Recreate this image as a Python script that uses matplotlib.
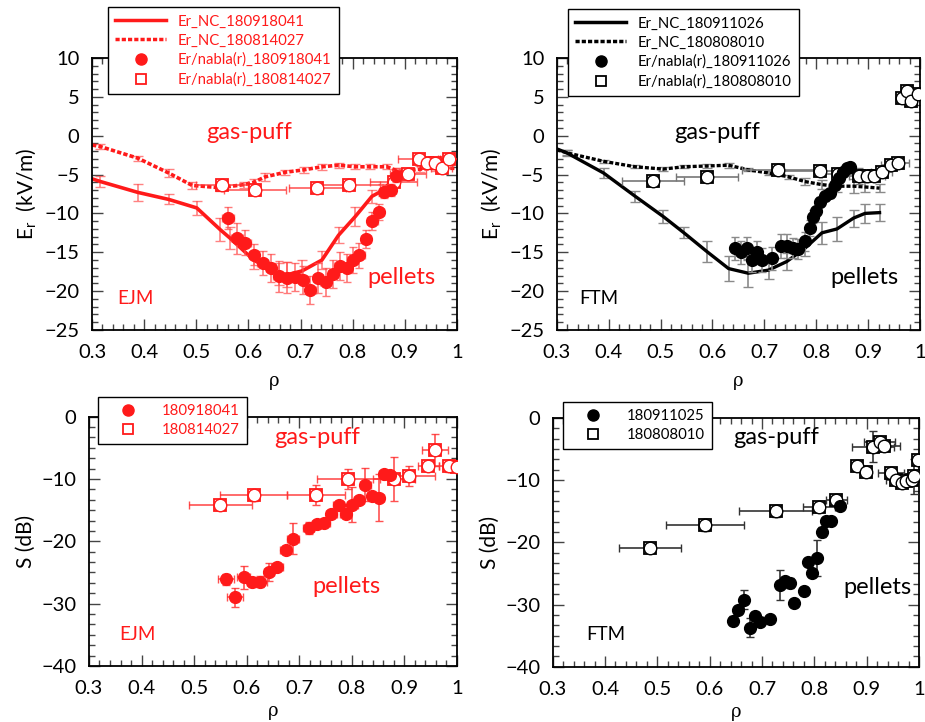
import numpy as np
import matplotlib
matplotlib.use("Agg")
import matplotlib.pyplot as plt
from matplotlib.lines import Line2D
from matplotlib.ticker import MultipleLocator

plt.rcParams["font.family"] = ["Lato", "DejaVu Sans"]

nan = np.nan

# ---------------------------------------------------------------------------
# Data: E_r, EJM (top left)
# ---------------------------------------------------------------------------
ejm_nc_shot = "180918041"
ejm_nc_x = [0.30, 0.316, 0.388, 0.447, 0.501, 0.546, 0.565, 0.61, 0.658, 0.674,
            0.703, 0.741, 0.773, 0.805, 0.837, 0.859, 0.885]
ejm_nc_y = [-5.55, -5.9, -7.3, -8.2, -9.3, -12.1, -13.2, -16.0, -17.8, -17.9,
            -17.4, -16.0, -12.8, -10.4, -7.8, -7.0, -5.0]
ejm_nc_err = [nan, 0.65, 1.1, 0.65, 0.85, 1.5, 1.4, 1.2, 1.4, 1.6,
              1.4, 1.2, 1.0, 1.2, 0.8, 0.8, 0.8]

ejm_gp_nc_shot = "180814027"
ejm_gp_nc_x = [0.30, 0.316, 0.388, 0.447, 0.492, 0.546, 0.591, 0.61, 0.632, 0.671,
               0.706, 0.741, 0.773, 0.805, 0.834, 0.866, 0.888, 0.93, 0.96, 0.995]
ejm_gp_nc_y = [-1.2, -1.4, -2.9, -4.8, -6.4, -6.7, -6.3, -6.0, -5.3, -4.7,
               -4.4, -4.0, -3.8, -4.0, -4.0, -4.0, -4.6, -4.3, -4.2, -4.2]
ejm_gp_nc_err = [nan, 0.3, 0.3, 0.5, 0.5, 0.4, 0.4, 0.4, 0.5, 0.3,
                 0.4, 0.4, 0.3, 0.3, 0.3, 0.3, 0.4, 0.4, 0.3, nan]

ejm_pel_x = [0.561, 0.578, 0.594, 0.611, 0.627, 0.643, 0.658, 0.674, 0.69, 0.705,
             0.719, 0.733, 0.748, 0.762, 0.775, 0.789, 0.80, 0.813, 0.825, 0.838,
             0.85, 0.861, 0.873, 0.883]
ejm_pel_y = [-10.6, -13.2, -13.75, -15.3, -16.4, -17.0, -18.1, -18.3, -18.2, -18.6,
             -19.8, -18.3, -18.8, -17.8, -16.8, -17.05, -16.0, -15.4, -13.3, -11.0,
             -9.8, -7.2, -7.0, -5.2]
ejm_pel_yerr = [1.4, 2.0, 1.6, 1.4, 1.5, 1.8, 2.0, 2.0, 1.8, 1.8,
                1.8, 1.9, 1.8, 1.8, 1.8, 1.8, 1.7, 1.6, 1.2, 1.2,
                1.0, 0.8, 0.8, 0.8]
ejm_pel_xerr = [0.012, 0.012, 0.01, 0.01, 0.01, 0.01, 0.01, 0.01, 0.01, 0.01,
                0.01, 0.01, 0.01, 0.01, 0.01, 0.01, 0.01, 0.01, 0.01, 0.01,
                0.01, 0.01, 0.01, 0.01]

ejm_gp_x = [0.549, 0.613, 0.732, 0.792, 0.879, 0.906, 0.927, 0.943, 0.958, 0.971, 0.984]
ejm_gp_y = [-6.3, -6.96, -6.67, -6.4, -6.0, -4.9, -3.0, -3.5, -3.5, -4.2, -3.0]
ejm_gp_xerr = [0.05, 0.06, 0.055, 0.06, 0.045, 0.035, 0.04, 0.02, 0.02, 0.02, 0.02]
ejm_gp_yerr = [0.4, 0.4, 0.4, 0.4, 0.5, 0.5, 0.4, 0.4, 0.4, 0.4, 0.4]

# ---------------------------------------------------------------------------
# Data: E_r, FTM (top right)
# ---------------------------------------------------------------------------
ftm_nc_shot = "180911026"
ftm_nc_x = [0.30, 0.319, 0.39, 0.451, 0.505, 0.545, 0.589, 0.631, 0.669, 0.708,
            0.743, 0.778, 0.811, 0.84, 0.872, 0.894, 0.922]
ftm_nc_y = [-1.7, -2.2, -4.8, -7.8, -10.4, -12.5, -14.9, -17.1, -17.7, -17.3,
            -16.2, -14.5, -12.5, -12.0, -10.6, -10.0, -9.9]
ftm_nc_err = [nan, 0.4, 0.7, 0.7, 0.8, 0.7, 1.3, 1.6, 1.8, 1.2,
              1.1, 1.0, 1.4, 1.5, 1.1, 1.2, 1.1]

ftm_gp_nc_shot = "180808010"
ftm_gp_nc_x = [0.30, 0.319, 0.39, 0.451, 0.505, 0.545, 0.589, 0.631, 0.669, 0.708,
               0.747, 0.778, 0.811, 0.84, 0.872, 0.894, 0.922]
ftm_gp_nc_y = [-1.8, -2.2, -3.3, -4.0, -4.3, -4.0, -3.9, -3.8, -4.4, -4.8,
               -5.3, -5.9, -6.3, -6.5, -6.5, -6.6, -6.75]
ftm_gp_nc_err = [nan, 0.3, 0.2, 0.2, 0.3, 0.2, 0.3, 0.3, 0.2, 0.3,
                 0.3, 0.4, 0.6, 0.8, 0.9, 0.7, 0.5]

ftm_pel_x = [0.644, 0.655, 0.666, 0.676, 0.686, 0.696, 0.715, 0.732, 0.744, 0.756,
             0.765, 0.779, 0.787, 0.794, 0.80, 0.807, 0.817, 0.827, 0.836, 0.843,
             0.851, 0.859, 0.865]
ftm_pel_y = [-14.5, -15.0, -14.5, -16.0, -15.0, -16.0, -15.8, -14.2, -14.2, -14.5,
             -14.6, -13.6, -11.9, -10.4, -9.75, -8.5, -7.8, -7.4, -6.3, -5.5,
             -4.7, -4.2, -4.0]
ftm_pel_err = [1.5, 1.5, 1.5, 1.5, 1.5, 1.5, 1.5, 1.5, 1.5, 1.3,
               1.3, 1.2, 1.0, 0.8, 0.6, 0.6, 0.6, 0.6, 0.5, 0.5,
               0.5, 0.5, 0.5]

ftm_gp_x = [0.486, 0.59, 0.727, 0.807, 0.841, 0.883, 0.897, 0.912, 0.926, 0.945,
            0.958, 0.965, 0.974, 0.982, 0.997]
ftm_gp_y = [-5.8, -5.33, -4.4, -4.5, -4.9, -5.2, -5.2, -5.2, -4.7, -3.75,
            -3.55, 4.85, 5.8, 4.4, 5.4]
ftm_gp_xerr = [0.06, 0.06, 0.07, 0.07, 0.03, 0.02, 0.02, 0.02, 0.02, 0.02,
               0.02, 0.01, 0.01, 0.01, 0.01]
ftm_gp_yerr = [0.3, 0.3, 0.3, 0.3, 0.3, 1.0, 0.3, 0.3, 0.3, 0.5,
               0.5, 0.4, 0.4, 0.4, 0.4]

# ---------------------------------------------------------------------------
# Data: S (dB), EJM (bottom left)
# ---------------------------------------------------------------------------
s_ejm_pel_shot = "180918041"
s_ejm_pel_x = [0.561, 0.578, 0.594, 0.61, 0.626, 0.642, 0.658, 0.674, 0.688, 0.718,
               0.734, 0.748, 0.761, 0.775, 0.788, 0.801, 0.814, 0.826, 0.838, 0.851,
               0.862, 0.872]
s_ejm_pel_y = [-26.1, -29.0, -25.8, -26.6, -26.5, -24.9, -24.2, -21.4, -19.6, -17.9,
               -17.2, -17.0, -15.6, -14.1, -15.6, -14.1, -13.4, -10.9, -12.7, -13.0,
               -9.25, -9.4]
s_ejm_pel_yerr = [0.9, 1.5, 1.8, 0.8, 0.9, 1.5, 0.6, 0.6, 2.5, 1.0,
                  0.6, 0.5, 0.6, 0.5, 0.5, 2.8, 0.5, 2.6, 0.5, 3.8,
                  0.5, 0.5]
s_ejm_pel_xerr = [0.015, 0.015, 0.012, 0.01, 0.012, 0.01, 0.012, 0.01, 0.012, 0.01,
                  0.01, 0.01, 0.01, 0.01, 0.01, 0.01, 0.01, 0.01, 0.01, 0.01,
                  0.01, 0.01]

s_ejm_gp_shot = "180814027"
s_ejm_gp_x = [0.55, 0.613, 0.732, 0.793, 0.88, 0.908, 0.945, 0.958, 0.985, 1.0]
s_ejm_gp_y = [-14.2, -12.6, -12.5, -10.0, -10.0, -9.5, -7.9, -5.35, -7.9, -8.0]
s_ejm_gp_xerr = [0.06, 0.063, 0.055, 0.06, 0.04, 0.05, 0.02, 0.025, 0.02, 0.01]
s_ejm_gp_yerr = [0.5, 0.9, 1.6, 1.6, 3.5, 1.6, 0.4, 2.6, 1.0, 0.5]

# ---------------------------------------------------------------------------
# Data: S (dB), FTM (bottom right)
# ---------------------------------------------------------------------------
s_ftm_pel_shot = "180911025"
s_ftm_pel_x = [0.645, 0.655, 0.666, 0.677, 0.686, 0.696, 0.716, 0.734, 0.744, 0.753,
               0.761, 0.78, 0.787, 0.796, 0.806, 0.814, 0.822, 0.831, 0.85]
s_ftm_pel_y = [-32.6, -30.9, -29.2, -33.7, -31.9, -32.75, -32.4, -26.8, -26.2, -26.6,
               -29.8, -27.8, -23.2, -25.0, -22.55, -18.4, -16.5, -16.6, -14.1]
s_ftm_pel_yerr = [0.7, 0.7, 1.5, 1.6, 0.7, 0.7, 0.5, 2.4, 0.5, 0.8,
                  0.5, 0.7, 0.5, 0.5, 2.9, 0.8, 0.5, 0.5, 0.5]

s_ftm_gp_shot = "180808010"
s_ftm_gp_x = [0.486, 0.591, 0.726, 0.809, 0.842, 0.882, 0.898, 0.912, 0.925, 0.934,
              0.946, 0.957, 0.967, 0.976, 0.986, 0.99, 0.998]
s_ftm_gp_y = [-20.9, -17.2, -15.0, -14.3, -13.2, -7.7, -8.7, -4.6, -3.8, -4.5,
              -8.9, -9.9, -10.4, -10.1, -9.9, -9.4, -6.8]
s_ftm_gp_xerr = [0.06, 0.074, 0.07, 0.03, 0.02, 0.0, 0.0, 0.04, 0.03, 0.03,
                 0.025, 0.02, 0.01, 0.01, 0.01, 0.01, 0.0]
s_ftm_gp_yerr = [0.6, 0.9, 0.9, 0.6, 0.6, 0.3, 0.3, 2.5, 0.5, 0.5,
                 0.4, 0.4, 0.4, 0.4, 0.4, 2.8, 0.3]

RED = "#ff1a1a"
BLACK = "black"
DASH = (0, (1.2, 0.6))


def style_axes(ax, ylim, ymajor, yminor, xlabelpad):
    ax.set_xlim(0.3, 1.0)
    ax.set_ylim(*ylim)
    ax.xaxis.set_major_locator(MultipleLocator(0.1))
    ax.xaxis.set_minor_locator(MultipleLocator(0.02))
    ax.yaxis.set_major_locator(MultipleLocator(ymajor))
    ax.yaxis.set_minor_locator(MultipleLocator(yminor))
    ax.xaxis.set_major_formatter(plt.FuncFormatter(lambda v, p: f"{v:g}"))
    ax.tick_params(which="both", direction="in", top=True, right=True,
                   labelsize=14.5, width=1.0, color="#444444")
    ax.tick_params(which="major", length=8)
    ax.tick_params(axis="x", which="major", pad=10)
    ax.tick_params(axis="y", which="major", pad=9)
    ax.tick_params(which="minor", length=4)
    for s in ax.spines.values():
        s.set_linewidth(1.3)
    ax.set_xlabel("ρ", fontsize=13, family=["DejaVu Serif"], labelpad=xlabelpad)


def open_markers(ax, x, y, xerr, yerr, color, ecolor):
    ax.errorbar(x, y, xerr=xerr, yerr=yerr, fmt="none", ecolor=ecolor,
                elinewidth=1.2, capsize=3, zorder=3)
    ax.plot(x, y, "s", ms=8, mfc="white", mec=color, mew=1.3, zorder=4)
    ax.plot(x, y, "o", ms=9, mfc="white", mec=color, mew=1.0, zorder=5)


def filled_markers(ax, x, y, xerr, yerr, color, ecolor):
    ax.errorbar(x, y, xerr=xerr, yerr=yerr, fmt="o", ms=8.5, color=color,
                mec=color, ecolor=ecolor, elinewidth=1.2, capsize=3, zorder=6)


def nc_line(ax, x, y, err, color, ecolor, ls, lw):
    ax.errorbar(x, y, yerr=err, fmt="none", ecolor=ecolor, elinewidth=1.2,
                capsize=3.5, zorder=2)
    ax.plot(x, y, color=color, ls=ls, lw=lw, zorder=2.5)


def legend_handles(color, lines=True):
    hs = []
    if lines:
        hs.append(Line2D([], [], color=color, lw=2.5, ls="-"))
        hs.append(Line2D([], [], color=color, lw=2.5, ls=DASH))
    hs.append(Line2D([], [], color=color, marker="o", ls="none", ms=8))
    hs.append(Line2D([], [], color=color, marker="s", ls="none", ms=7,
                     mfc="white", mew=1.3))
    return hs


def add_legend(handles, labels, anchor, color, spacing, hlen):
    leg = fig.legend(handles, labels, loc="upper left", bbox_to_anchor=anchor,
                     borderaxespad=0, fancybox=False, edgecolor="black",
                     framealpha=1, fontsize=10.7, handlelength=hlen,
                     labelspacing=spacing, borderpad=0.5, labelcolor=color)
    leg.get_frame().set_linewidth(1.0)
    return leg


def panel_texts(ax, color, pos_gp, pos_pel, pos_name, name):
    ax.text(*pos_gp, "gas-puff", color=color, fontsize=17, ha="center", va="center")
    ax.text(*pos_pel, "pellets", color=color, fontsize=17, ha="center", va="center")
    ax.text(*pos_name, name, color=color, fontsize=13.5, ha="center", va="center")


fig = plt.figure(figsize=(9.25, 7.22), dpi=100)
ax_tl = fig.add_axes([0.0995, 0.543, 0.3945, 0.3767])
ax_tr = fig.add_axes([0.602, 0.543, 0.3926, 0.3767])
ax_bl = fig.add_axes([0.0962, 0.0776, 0.3978, 0.3453])
ax_br = fig.add_axes([0.5975, 0.0766, 0.396, 0.3444])

# --- top left ---
ax = ax_tl
style_axes(ax, (-25, 10), 5, 1, 8)
nc_line(ax, ejm_nc_x, ejm_nc_y, ejm_nc_err, RED, (1, 0.3, 0.3, 0.7), "-", 2.6)
nc_line(ax, ejm_gp_nc_x, ejm_gp_nc_y, ejm_gp_nc_err, RED, (1, 0.3, 0.3, 0.7), DASH, 2.6)
open_markers(ax, ejm_gp_x, ejm_gp_y, ejm_gp_xerr, ejm_gp_yerr, RED, (1, 0.2, 0.2, 0.8))
filled_markers(ax, ejm_pel_x, ejm_pel_y, ejm_pel_xerr, ejm_pel_yerr, RED,
               (1, 0.3, 0.3, 0.75))
ax.set_ylabel("E$_\\mathregular{r}$  (kV/m)", fontsize=15)
panel_texts(ax, RED, (0.601, 0.35), (0.894, -18.3), (0.384, -20.9), "EJM")
add_legend(legend_handles(RED),
           ["Er_NC_" + ejm_nc_shot, "Er_NC_" + ejm_gp_nc_shot,
            "Er/nabla(r)_" + ejm_nc_shot, "Er/nabla(r)_" + ejm_gp_nc_shot],
           (0.1168, 0.9903), RED, 0.35, 3.4)

# --- top right ---
ax = ax_tr
style_axes(ax, (-25, 10), 5, 1, 8)
nc_line(ax, ftm_nc_x, ftm_nc_y, ftm_nc_err, BLACK, "#8a8a8a", "-", 2.4)
nc_line(ax, ftm_gp_nc_x, ftm_gp_nc_y, ftm_gp_nc_err, BLACK, "#8a8a8a", DASH, 2.4)
open_markers(ax, ftm_gp_x, ftm_gp_y, ftm_gp_xerr, ftm_gp_yerr, BLACK, "#777777")
filled_markers(ax, ftm_pel_x, ftm_pel_y, None, ftm_pel_err, BLACK, "#8a8a8a")
ax.set_ylabel("E$_\\mathregular{r}$  (kV/m)", fontsize=15)
panel_texts(ax, BLACK, (0.609, 0.35), (0.892, -18.2), (0.381, -20.9), "FTM")
add_legend(legend_handles(BLACK),
           ["Er_NC_" + ftm_nc_shot, "Er_NC_" + ftm_gp_nc_shot,
            "Er/nabla(r)_" + ftm_nc_shot, "Er/nabla(r)_" + ftm_gp_nc_shot],
           (0.614, 0.9875), BLACK, 0.35, 3.4)

# --- bottom left ---
ax = ax_bl
style_axes(ax, (-40, 0), 10, 10 / 6, 4)
open_markers(ax, s_ejm_gp_x, s_ejm_gp_y, s_ejm_gp_xerr, s_ejm_gp_yerr, RED,
             (1, 0.2, 0.2, 0.85))
filled_markers(ax, s_ejm_pel_x, s_ejm_pel_y, s_ejm_pel_xerr, s_ejm_pel_yerr, RED,
               (1, 0.2, 0.2, 0.85))
ax.set_ylabel("S (dB)", fontsize=15)
panel_texts(ax, RED, (0.734, -3.4), (0.789, -27.3), (0.393, -35.0), "EJM")
add_legend(legend_handles(RED, lines=False), [s_ejm_pel_shot, s_ejm_gp_shot],
           (0.106, 0.4501), RED, 0.3, 3.0)

# --- bottom right ---
ax = ax_br
style_axes(ax, (-40, 0), 10, 10 / 6, 4)
open_markers(ax, s_ftm_gp_x, s_ftm_gp_y, s_ftm_gp_xerr, s_ftm_gp_yerr, BLACK, "#333333")
filled_markers(ax, s_ftm_pel_x, s_ftm_pel_y, None, s_ftm_pel_yerr, BLACK, "#333333")
ax.set_ylabel("S (dB)", fontsize=15)
panel_texts(ax, BLACK, (0.727, -3.2), (0.92, -27.2), (0.402, -34.9), "FTM")
add_legend(legend_handles(BLACK, lines=False), [s_ftm_pel_shot, s_ftm_gp_shot],
           (0.6086, 0.4432), BLACK, 0.3, 3.0)

fig.savefig("out.png", dpi=100)
